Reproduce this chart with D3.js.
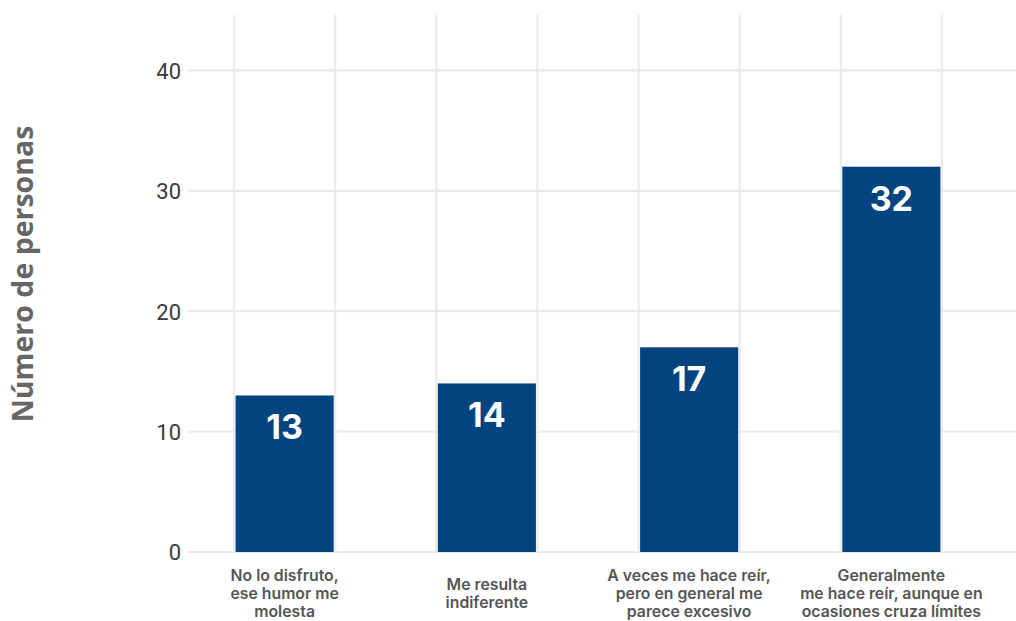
<!DOCTYPE html>
<html>
<head>
<meta charset="utf-8">
<script src="https://cdn.jsdelivr.net/npm/d3@7"></script>
<style>
  html, body { margin: 0; padding: 0; background: #ffffff; }
  svg { display: block; }
</style>
</head>
<body>
<svg id="chart" width="1016" height="621"></svg>
<script>
// Answer categories (one label line per array entry)
const categories = [
  ["No lo disfruto,", "ese humor me", "molesta"],
  ["Me resulta", "indiferente"],
  ["A veces me hace reír,", "pero en general me", "parece excesivo"],
  ["Generalmente", "me hace reír, aunque en", "ocasiones cruza límites"]
];
const counts = [13, 14, 17, 32];
const yTicks = [0, 10, 20, 30, 40];
const yTitle = "Número de personas";

const svg = d3.select("#chart");
const plot = { left: 188, right: 1016, top: 15, bottom: 552 };

const x = d3.scaleBand()
  .domain(d3.range(categories.length))
  .range([183, 993])
  .paddingInner(0.515)
  .paddingOuter(0.26);

const y = d3.scaleLinear()
  .domain([0, 44.6])
  .range([plot.bottom, plot.top]);

const grid = svg.append("g").attr("stroke", "#ebebeb").attr("stroke-width", 2.2);

// horizontal grid lines at the ticks
grid.selectAll("line.h").data(yTicks).join("line")
  .attr("class", "h")
  .attr("x1", plot.left).attr("x2", plot.right)
  .attr("y1", d => y(d)).attr("y2", d => y(d));

// vertical grid lines at both edges of each bar
const edges = [];
categories.forEach((c, i) => {
  edges.push(x(i) - 1.5, x(i) + x.bandwidth() + 1.5);
});
grid.selectAll("line.v").data(edges).join("line")
  .attr("class", "v")
  .attr("x1", d => d).attr("x2", d => d)
  .attr("y1", plot.top).attr("y2", plot.bottom);

// y axis labels
const yAxis = d3.axisLeft(y).tickValues(yTicks).tickSize(0).tickPadding(0);
svg.append("g")
  .attr("transform", `translate(181,0)`)
  .call(yAxis)
  .call(g => g.select(".domain").remove())
  .call(g => g.selectAll("text")
    .attr("font-family", "Roboto, 'Liberation Sans', sans-serif")
    .attr("font-size", 22)
    .attr("fill", "#3a3a3a")
    .attr("dy", "0.36em"));

// y title
svg.append("text")
  .attr("transform", `translate(33, 274) rotate(-90)`)
  .attr("text-anchor", "middle")
  .attr("font-family", "'Open Sans', Roboto, sans-serif")
  .attr("font-weight", "bold")
  .attr("font-size", 28.5)
  .attr("fill", "#666666")
  .text(yTitle);

// bars
svg.append("g").selectAll("rect").data(counts).join("rect")
  .attr("x", (d, i) => x(i))
  .attr("width", x.bandwidth())
  .attr("y", d => y(d))
  .attr("height", d => y(0) - y(d))
  .attr("fill", "#01447f");

// value labels inside bar tops
svg.append("g").selectAll("text").data(counts).join("text")
  .attr("x", (d, i) => x(i) + x.bandwidth() / 2)
  .attr("y", d => y(d) + 44)
  .attr("text-anchor", "middle")
  .attr("font-family", "Inter, 'DejaVu Sans', sans-serif")
  .attr("font-weight", "bold")
  .attr("font-size", 34)
  .attr("fill", "#ffffff")
  .text(d => d);

// category labels under the bars
const lineH = 18.4;
const catG = svg.append("g")
  .attr("font-family", "Inter, 'Open Sans', sans-serif")
  .attr("font-weight", 600)
  .attr("font-size", 15.8)
  .attr("fill", "#555555")
  .attr("text-anchor", "middle");
categories.forEach((lines, i) => {
  const cx = x(i) + x.bandwidth() / 2;
  const startY = 593.4 - (lines.length - 1) * lineH / 2;
  const t = catG.append("text").attr("x", cx);
  lines.forEach((ln, k) => {
    t.append("tspan")
      .attr("x", cx)
      .attr("y", startY + k * lineH)
      .attr("dy", "0.36em")
      .text(ln);
  });
});
</script>
</body>
</html>
